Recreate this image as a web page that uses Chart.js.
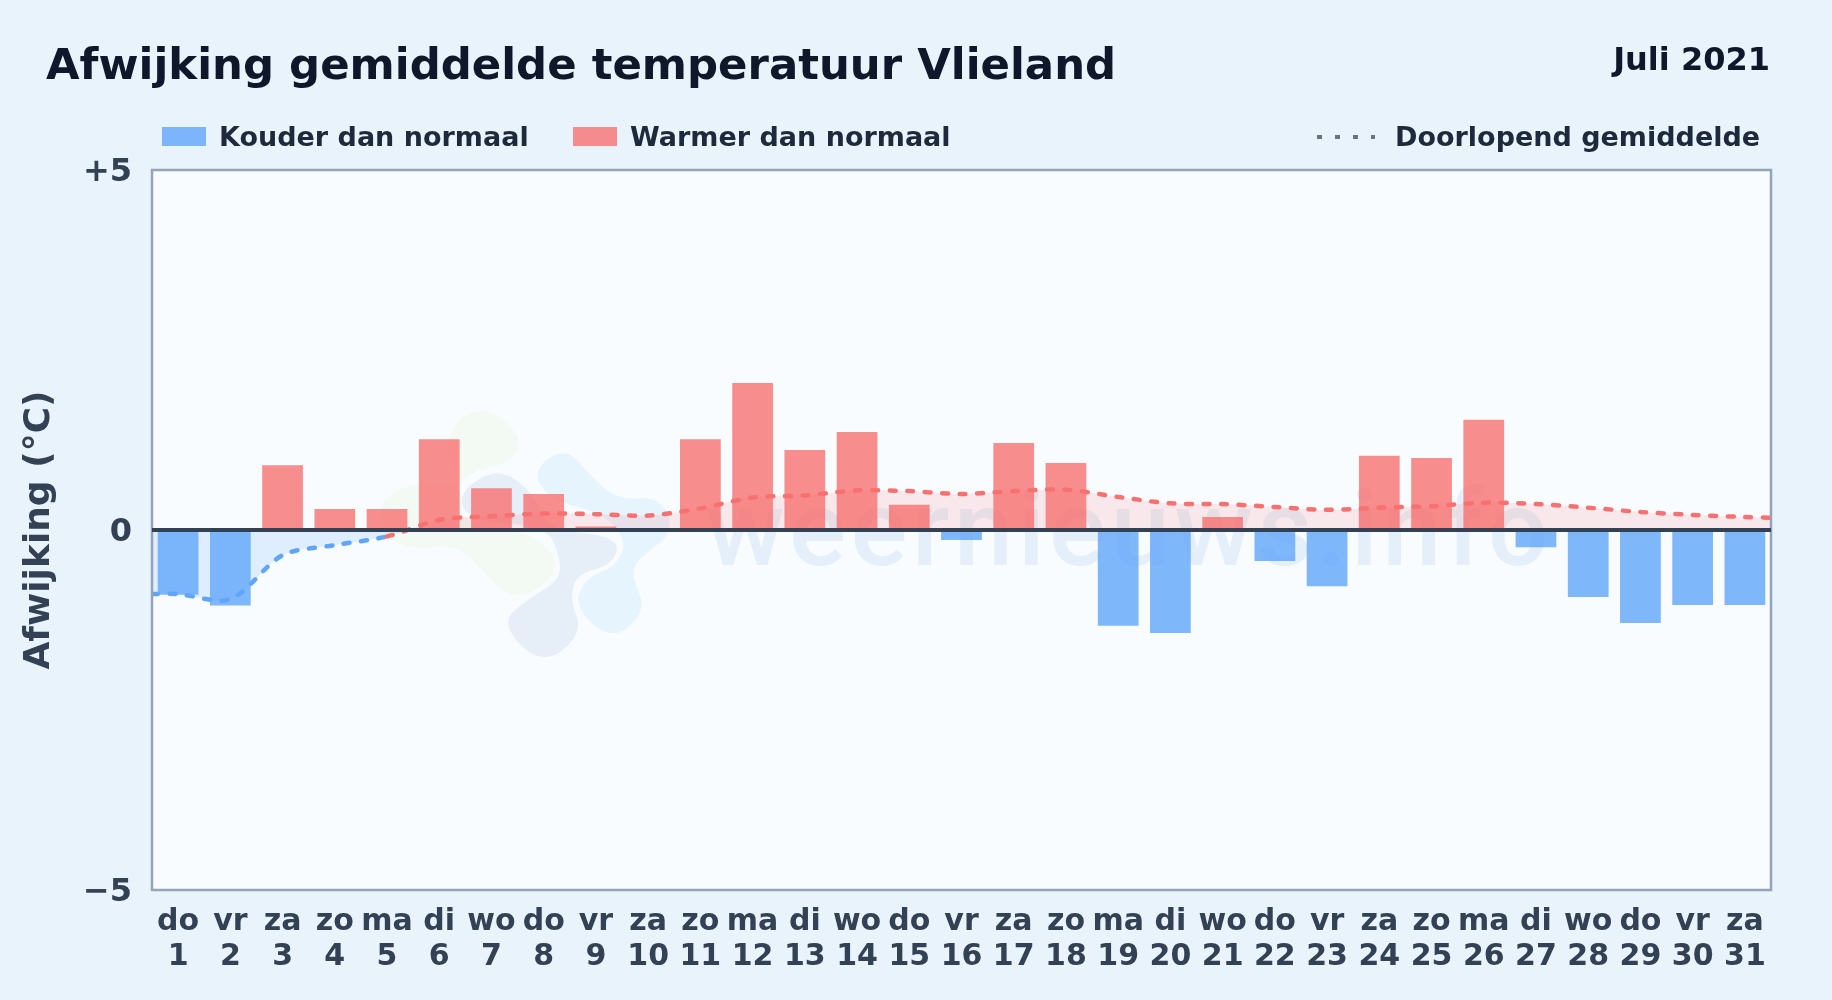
<!DOCTYPE html>
<html lang="nl">
<head>
<meta charset="utf-8">
<title>Afwijking gemiddelde temperatuur Vlieland</title>
<script src="https://cdn.jsdelivr.net/npm/chart.js@4"></script>
<style>
    html, body { margin: 0; padding: 0; background: #e9f3fc; }
    body { position: relative; width: 1832px; height: 1000px; overflow: hidden; font-family: "DejaVu Sans", sans-serif; font-weight: bold; }
    canvas { position: absolute; left: 0; top: 0; }
    .txt { position: absolute; white-space: nowrap; line-height: 1; }
    #titel { left: 46px; top: 43px; font-size: 43.4px; color: #0f172a; }
    #maand { right: 62px; top: 43px; font-size: 32px; color: #0f172a; }
    .leg { top: 123px; font-size: 27px; color: #1e293b; }
    .vak { position: absolute; top: 127px; width: 44px; height: 19px; }
    #stip { position: absolute; left: 1317px; top: 135px; width: 58px; height: 4px;
            background: repeating-linear-gradient(90deg, #64748b 0 5px, transparent 5px 18px); }
</style>
</head>
<body>
<canvas id="grafiek" width="1832" height="1000"></canvas>
<div class="txt" id="titel">Afwijking gemiddelde temperatuur Vlieland</div>
<div class="txt" id="maand">Juli 2021</div>
<div class="vak" style="left:162px;background:rgba(96,165,250,.8)"></div>
<div class="txt leg" style="left:219px">Kouder dan normaal</div>
<div class="vak" style="left:573px;background:rgba(248,113,113,.8)"></div>
<div class="txt leg" style="left:630px">Warmer dan normaal</div>
<div id="stip"></div>
<div class="txt leg" style="left:1395px">Doorlopend gemiddelde</div>

<script>
// Dagen van de maand
const dagen = [1,2,3,4,5,6,7,8,9,10,11,12,13,14,15,16,17,18,19,20,21,22,23,24,25,26,27,28,29,30,31];
const weekdagen = ['do','vr','za','zo','ma','di','wo','do','vr','za','zo','ma','di','wo','do','vr','za','zo','ma','di','wo','do','vr','za','zo','ma','di','wo','do','vr','za'];

const afwijking = [-0.9,-1.05,0.9,0.29,0.29,1.26,0.58,0.5,0.05,0,1.26,2.04,1.11,1.36,0.35,-0.14,1.21,0.93,-1.33,-1.43,0.18,-0.43,-0.78,1.03,1.0,1.53,-0.24,-0.93,-1.29,-1.04,-1.04];

// Doorlopend gemiddelde, loopt door tot de randen van de plot
const lijnDagen = [0.5,1,2,3,4,5,6,7,8,9,10,11,12,13,14,15,16,17,18,19,20,21,22,23,24,25,26,27,28,29,30,31,31.5];
const gemiddelde = [-0.89,-0.89,-0.96,-0.35,-0.21,-0.09,0.14,0.19,0.23,0.22,0.2,0.3,0.45,0.48,0.55,0.54,0.5,0.54,0.56,0.46,0.37,0.36,0.32,0.28,0.31,0.33,0.38,0.36,0.31,0.25,0.21,0.18,0.17];

const BLAUW = '#60a5fa';
const ROOD = '#f87171';

// Logo vlekken van het watermerk (in crop-coordinaten, zie translate hieronder)
const vlekken = [
    { kleur: '#f3f9f3', pts: [[250,95],[370,10],[490,110],[450,190],[330,215],[300,260],[130,250],[40,330],[120,455],[300,430],[380,530],[480,610],[610,500],[530,410],[430,390],[310,370],[300,260]] },
    { kleur: '#e6eff8', pts: [[295,275],[420,200],[530,290],[560,390],[780,410],[760,495],[650,520],[630,600],[670,700],[545,800],[420,670],[500,600],[600,540],[600,470],[560,380],[320,360]] },
    { kleur: '#e6f4fe', pts: [[515,210],[620,140],[700,240],[780,300],[900,290],[945,395],[830,480],[815,530],[860,630],[760,725],[640,620],[680,530],[770,500],[800,420],[730,340],[570,300]] }
];

function vlek(ctx, pts) {
    // gesloten vloeiende vorm via middenpunten
    const n = pts.length;
    ctx.beginPath();
    ctx.moveTo((pts[n-1][0] + pts[0][0]) / 2, (pts[n-1][1] + pts[0][1]) / 2);
    for (let i = 0; i < n; i++) {
        const p = pts[i], q = pts[(i + 1) % n];
        ctx.quadraticCurveTo(p[0], p[1], (p[0] + q[0]) / 2, (p[1] + q[1]) / 2);
    }
    ctx.closePath();
    ctx.fill();
}

// Plotachtergrond, watermerk en rand
const plotAchtergrond = {
    id: 'plotAchtergrond',
    beforeDraw(chart) {
        const { ctx, chartArea: a } = chart;
        ctx.save();
        ctx.fillStyle = '#f8fcff';
        ctx.fillRect(a.left, a.top, a.right - a.left, a.bottom - a.top);

        ctx.save();
        ctx.translate(360, 400);
        ctx.scale(1 / 3, 1 / 3);
        vlekken.forEach(v => { ctx.fillStyle = v.kleur; vlek(ctx, v.pts); });
        ctx.restore();

        ctx.font = '500 106px Roboto';
        ctx.letterSpacing = '4.6px';
        ctx.fillStyle = '#e5eff9';
        ctx.textBaseline = 'alphabetic';
        ctx.textAlign = 'left';
        ctx.fillText('weernieuws.info', 706, 565);
        ctx.restore();
    },
    afterDatasetsDraw(chart) {
        const { ctx, chartArea: a } = chart;
        ctx.save();
        ctx.strokeStyle = '#94a3b8';
        ctx.lineWidth = 2.5;
        ctx.strokeRect(a.left, a.top, a.right - a.left, a.bottom - a.top);
        ctx.restore();
    }
};

new Chart(document.getElementById('grafiek'), {
    data: {
        datasets: [
            {
                type: 'line',
                label: 'Doorlopend gemiddelde',
                data: lijnDagen.map((d, i) => ({ x: d, y: gemiddelde[i] })),
                order: 0,
                borderColor: ROOD,
                borderWidth: 4.5,
                borderDash: [6, 11.5],
                borderCapStyle: 'round',
                tension: 0.3,
                pointRadius: 0,
                fill: { target: { value: 0 }, above: 'rgba(248,113,113,0.14)', below: 'rgba(96,165,250,0.16)' },
                segment: {
                    borderColor: c => c.p1.parsed.y >= 0 ? ROOD : BLAUW
                }
            },
            {
                type: 'bar',
                label: 'Afwijking',
                data: dagen.map((d, i) => ({ x: d, y: afwijking[i] })),
                order: 1,
                backgroundColor: afwijking.map(v => v < 0 ? 'rgba(96,165,250,0.8)' : 'rgba(248,113,113,0.8)'),
                categoryPercentage: 1,
                barPercentage: 0.78
            }
        ]
    },
    options: {
        responsive: false,
        animation: false,
        layout: { padding: { left: 0, top: 170, right: 61, bottom: 0 } },
        plugins: {
            legend: { display: false },
            tooltip: { enabled: false },
            filler: { drawTime: 'beforeDatasetsDraw' }
        },
        scales: {
            x: {
                type: 'linear',
                offset: false,
                min: 0.5,
                max: 31.5,
                grid: { display: false, drawTicks: false },
                border: { display: false },
                afterBuildTicks: s => { s.ticks = dagen.map(d => ({ value: d })); },
                afterFit: s => { s.height = 110; },
                ticks: {
                    autoSkip: false,
                    maxRotation: 0,
                    padding: 15,
                    color: '#334155',
                    font: { family: '"DejaVu Sans"', weight: 'bold', size: 30, lineHeight: 1.17 },
                    callback: v => [weekdagen[v - 1], String(v)]
                }
            },
            y: {
                min: -5,
                max: 5,
                grid: {
                    z: 1,
                    drawTicks: false,
                    lineWidth: c => c.tick.value === 0 ? 4 : 0,
                    color: '#334155'
                },
                border: { display: false },
                afterFit: s => { s.width = 152; },
                title: {
                    display: true,
                    text: 'Afwijking (°C)',
                    color: '#334155',
                    font: { family: '"DejaVu Sans"', weight: 'bold', size: 36 },
                    padding: { top: 18, bottom: 0 }
                },
                ticks: {
                    stepSize: 5,
                    padding: 20,
                    labelOffset: 3,
                    color: '#334155',
                    font: { family: '"DejaVu Sans"', weight: 'bold', size: 32 },
                    callback: v => v > 0 ? '+' + v : (v < 0 ? '\u2212' + (-v) : '0')
                }
            }
        }
    },
    plugins: [plotAchtergrond]
});
</script>
</body>
</html>
